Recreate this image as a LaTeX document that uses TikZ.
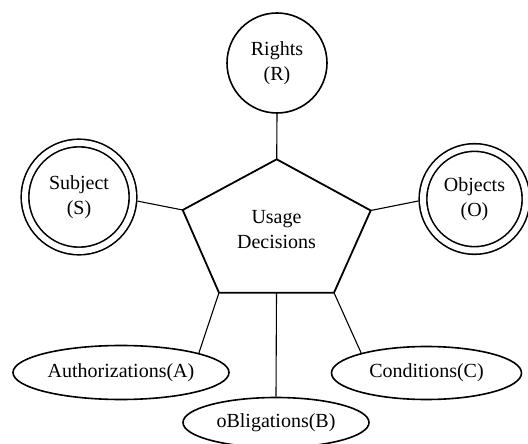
\documentclass[tikz,border=0pt]{standalone}
\usepackage{fontspec}
\setmainfont{Liberation Serif}
\usetikzlibrary{shapes.geometric}
\begin{document}
\begin{tikzpicture}[x=1pt,y=-1pt,
  every node/.style={font=\fontsize{20}{25}\selectfont, align=center, inner sep=0pt},
  entity/.style={circle, draw, line width=1.6pt},
  store/.style={circle, draw, line width=1.6pt, double, double distance=6pt, outer sep=4.6pt},
  element/.style={ellipse, draw, line width=1.6pt},
  decision/.style={draw, line width=1.8pt, line join=miter},
  link/.style={draw, line width=1.1pt}]
\useasboundingbox (0,0) rectangle (528,444);
\fill[white] (0,0) rectangle (528,444);

% central pentagon
\coordinate (pT)  at (276.7,159.3);
\coordinate (pR)  at (370.7,210.5);
\coordinate (pBR) at (334,292.7);
\coordinate (pBL) at (219,292.7);
\coordinate (pL)  at (182.7,210);
\coordinate (pB)  at (276.5,292.7);
\draw[decision] (pT) -- (pR) -- (pBR) -- (pBL) -- (pL) -- cycle;
\node (ud) at (276.5,230) {Usage\\Decisions};

% surrounding components
\node[entity, minimum size=100pt] (R) at (277,63) {Rights\\(R)};
\node[store, minimum size=108pt] (S) at (79,197) {Subject\\(S)};
\node[store, minimum size=103pt] (O) at (474.5,199) {Objects\\(O)};
\node[element, minimum width=216pt, minimum height=54pt] (A) at (121,372.5) {Authorizations(A)};
\node[element, minimum width=190pt, minimum height=53pt] (C) at (426.5,373) {Conditions(C)};
\node[element, minimum width=186pt, minimum height=50pt] (B) at (276,422.5) {oBligations(B)};

% connectors
\draw[link] (R.south) -- (pT);
\draw[link] (S.-4) -- (pL);
\draw[link] (O.182) -- (pR);
\draw[link] (pBL) -- (A.14.4);
\draw[link] (pB) -- (B.north);
\draw[link] (pBR) -- (C.163);
\end{tikzpicture}
\end{document}
